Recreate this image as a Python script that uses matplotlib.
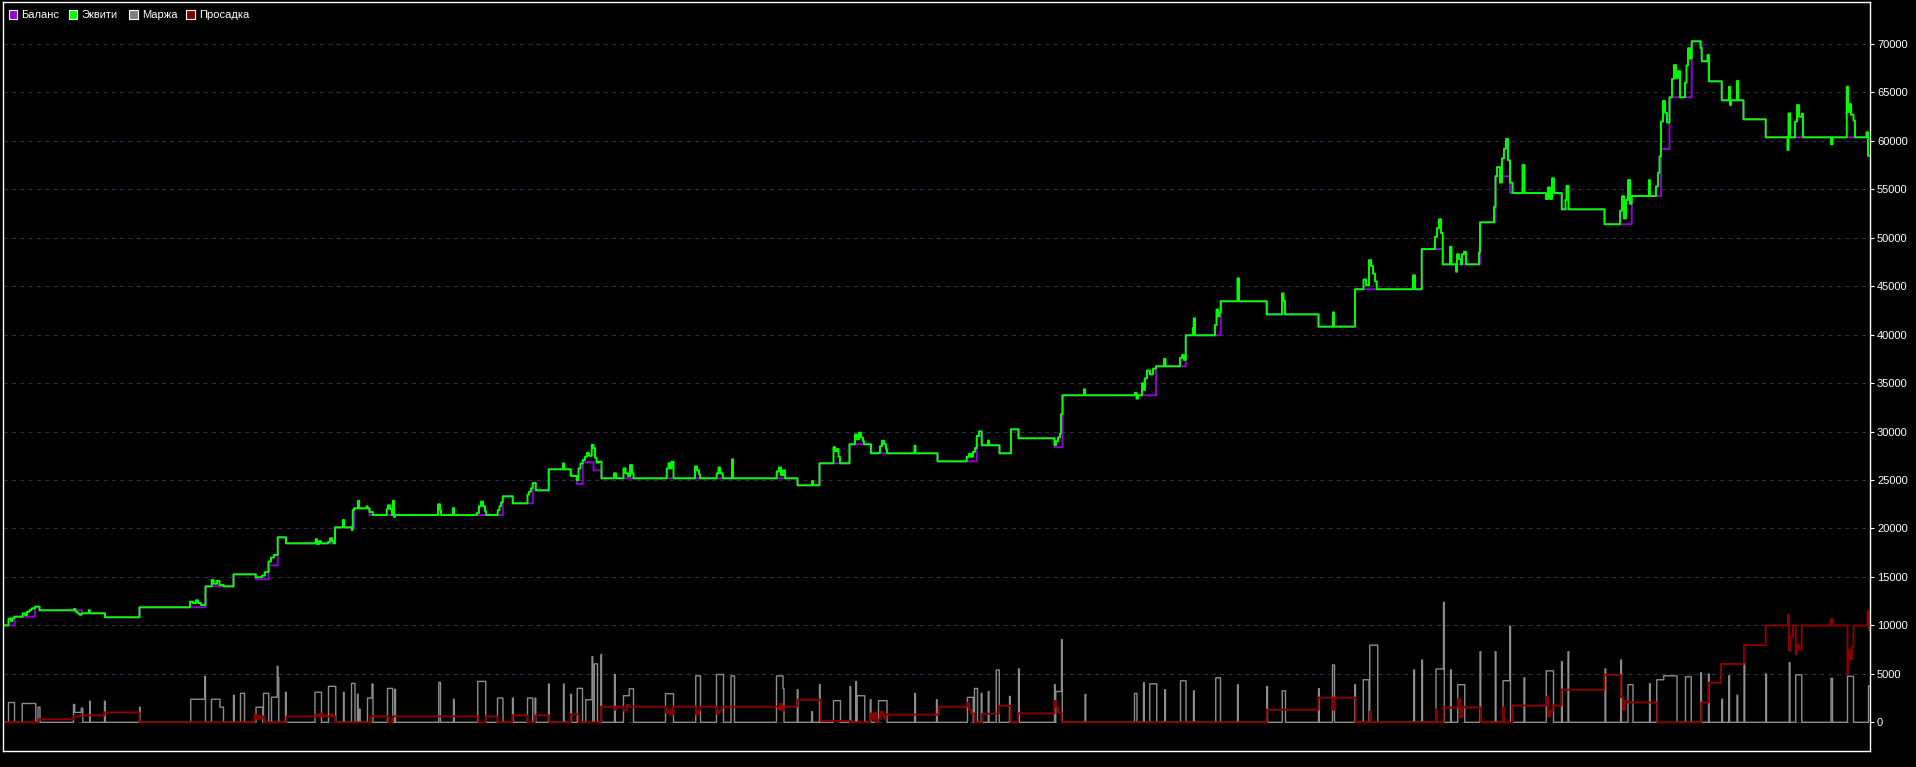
import matplotlib
matplotlib.use("Agg")
import matplotlib.pyplot as plt
from matplotlib.patches import Rectangle
import numpy as np

# --- data (time index along x, account currency on y) ---

# balance: index where a new level starts, and the level
bal_x = [3, 14.3, 35, 39.3, 81.7, 105, 139.3, 205.3, 233.3, 255.7,
         268.3, 277.7, 286, 335, 354, 369.3, 502.7, 512.7, 532.7, 535.7,
         548.7, 570.7, 576.7, 582.7, 593.3, 601.3, 797.3, 819.3, 849.3, 871,
         937.3, 976.7, 981.7, 999.3, 1011, 1018.3, 1054.3, 1062.3, 1156, 1185.7,
         1220.7, 1266.7, 1318.3, 1355, 1421.7, 1442.7, 1480, 1495.3, 1510, 1561.7,
         1604.3, 1631.7, 1661, 1669.3, 1691.7, 1701.7, 1708.3, 1721.7, 1743.3, 1765.7]
bal_y = [10000, 10900, 11930, 11560, 11250, 10840, 11870, 14030, 15270, 14760,
         16200, 19090, 18470, 20120, 22080, 21390, 23320, 22600, 24690, 23940,
         26110, 25420, 24590, 26830, 26000, 25180, 24460, 26730, 28690, 27760,
         26930, 29550, 28590, 27760, 30240, 29310, 28380, 33750, 36740, 39940,
         43450, 42100, 40830, 44690, 48840, 47260, 51600, 56350, 54620, 52940,
         51400, 54310, 59160, 64500, 70280, 68220, 66150, 64190, 62230, 60370]

# equity while positions are open: (from, to, value)
eq_swings = [
    (8.3, 11, 10700), (11, 12.3, 10450), (12.3, 14.3, 10750),
    (22.7, 25, 11250), (25, 27, 11070), (27, 29.3, 11410), (29.3, 31.7, 11590), (31.7, 35, 11760),
    (74, 75.5, 11700), (75.5, 77.5, 11410), (77.5, 79.5, 11250), (79.5, 81.7, 11100),
    (89, 89.7, 11590),
    (190, 193, 12450), (193, 196, 12300), (196, 198, 12600), (198, 201, 12300), (201, 205.3, 12100),
    (211.7, 213.5, 14690), (213.5, 217, 14300), (217, 219.5, 14600), (219.5, 223.3, 14170),
    (255.7, 262, 14970), (262, 265, 15150), (265, 268.3, 15500),
    (268.3, 271, 16600), (271, 274, 17000), (274, 277.7, 17270),
    (315.7, 317, 18900), (317, 319, 18400), (319, 321, 18700), (328, 330, 18600),
    (330, 332, 18990), (332, 333.3, 18700),
    (343, 344, 20880),
    (351.7, 352.7, 19840), (352.7, 354, 21900),
    (358, 359, 22870), (366.5, 367.3, 22300), (369.3, 372.7, 21700),
    (386.7, 388, 22000), (388, 390, 22400), (390, 392, 22000), (393, 394, 22870), (394, 395, 21200),
    (438, 440, 22500), (440, 441, 21900), (453, 454, 22100),
    (477, 479, 21600), (479, 481, 22300), (481, 483, 22770), (483, 485, 22300), (485, 486, 21800),
    (497.7, 499.5, 21900), (499.5, 501, 22300), (501, 502.7, 22700),
    (527.3, 529, 23500), (529, 531, 23800), (531, 532.7, 24150),
    (563, 564, 26730),
    (576.7, 578.5, 25000), (578.5, 580.5, 26200), (580.5, 582.7, 26700),
    (582.7, 585, 27070), (585, 587, 27400), (587, 589, 27800), (589, 591.7, 27500),
    (591.7, 593.3, 28620), (593.3, 595, 28300), (595, 596.5, 27300), (596.5, 598.3, 26800),
    (598.3, 601.3, 26900),
    (614, 616, 25700),
    (623.3, 625.5, 26210), (625.5, 628, 25700), (628, 630, 25400), (630, 632, 26550), (632, 633.3, 25700),
    (666.7, 668.5, 26200), (668.5, 670, 26730), (670, 671.5, 26200), (671.5, 673.3, 26900),
    (695, 697, 26400), (697, 699, 26000), (699, 700, 25600),
    (716.7, 718.5, 25700), (718.5, 720, 26300), (720, 722.7, 25700),
    (732, 733, 27140),
    (776.7, 779, 25900), (779, 781, 26300), (781, 783, 25500), (783, 785, 26000),
    (812, 813, 24900),
    (833.3, 835, 28400), (835, 837, 28000), (837, 838.5, 28200), (838.5, 840, 27400),
    (855, 857, 29700), (857, 859, 29200), (859, 861, 29890), (861, 863, 29400), (863, 864, 29000),
    (878, 880, 27800), (880, 882, 28500), (882, 884, 29060), (884, 886, 28700), (886, 887, 28200),
    (914.5, 915.5, 28540),
    (966.7, 969, 27400), (969, 971, 27700), (971, 973, 27400), (973, 975, 27900), (975, 976.7, 28300),
    (979, 981.7, 30030),
    (988, 989, 29070),
    (1054.3, 1056, 28600), (1056, 1058, 29000), (1058, 1060, 29400), (1060, 1061, 29800),
    (1061, 1062.3, 31800),
    (1084, 1085, 34370),
    (1135, 1136.5, 34000), (1136.5, 1138, 33400), (1142, 1143.3, 34990),
    (1143.3, 1145, 34300), (1145, 1147, 35500), (1147, 1150, 36300), (1150, 1153, 35900),
    (1153, 1156, 36500),
    (1164, 1165.5, 37500),
    (1180, 1182, 37600), (1182, 1184, 37900), (1184, 1185.7, 37400),
    (1193, 1193.7, 40700), (1193.7, 1195, 41690),
    (1215, 1216.5, 41000), (1216.5, 1218, 42600), (1218, 1219.5, 41900), (1219.5, 1220.7, 42300),
    (1237.5, 1239, 45820),
    (1282, 1283.5, 44270), (1283.5, 1285, 43500),
    (1333, 1334, 42310),
    (1363.3, 1366, 45700), (1366, 1369, 45100), (1369, 1371, 47700), (1371, 1373, 47100),
    (1373, 1375, 46300), (1375, 1376.7, 45500),
    (1413, 1415, 46130),
    (1435, 1437, 50100), (1437, 1439, 51000), (1439, 1441, 51910), (1441, 1442.7, 50500),
    (1450, 1451.5, 49080), (1456, 1457, 46500), (1457, 1459, 48300), (1459, 1461, 47800),
    (1462, 1464, 48300), (1464, 1466, 48560),
    (1479, 1480, 48500),
    (1494, 1495.3, 53200),
    (1497, 1500, 57300), (1500, 1502, 55700), (1502, 1504, 58200), (1504, 1506, 59200),
    (1506, 1508, 60200), (1508, 1510, 58000),
    (1510, 1512.3, 55690),
    (1522.5, 1524.5, 57510),
    (1546, 1548, 54000), (1548, 1550, 55200), (1550, 1552, 54000), (1552, 1554, 56140),
    (1565.5, 1566.5, 53900), (1566.5, 1568.5, 55350),
    (1620, 1622, 52800), (1622, 1624, 54300), (1624, 1626, 52000), (1626, 1628, 53900),
    (1628, 1630, 55960), (1630, 1631.7, 53500),
    (1649, 1650, 55960),
    (1656, 1658, 55300), (1658, 1659.5, 56700), (1659.5, 1661, 58400),
    (1661, 1663, 62000), (1663, 1665, 64120), (1665, 1667, 62900), (1667, 1669.3, 61900),
    (1672, 1674, 66400), (1674, 1676, 67830), (1676, 1678, 66500), (1678, 1680, 67200),
    (1685, 1686.5, 66000), (1686.5, 1688, 67800), (1688, 1690, 69560), (1690, 1691.7, 68500),
    (1700.5, 1701.7, 69600),
    (1707.5, 1709, 68860),
    (1729, 1730, 65590), (1730, 1731, 63700),
    (1737, 1738, 66200),
    (1787.5, 1788.5, 59060), (1788.5, 1790, 62840),
    (1795, 1797, 62000), (1797, 1799, 63700), (1799, 1801.7, 62500), (1801.7, 1803, 62800),
    (1831, 1832.5, 59650),
    (1846.7, 1848, 65590), (1848, 1849.5, 63000), (1849.5, 1851, 63800), (1851, 1853.3, 62700),
    (1853.3, 1855, 62100),
    (1866.5, 1868, 60900), (1868, 1870, 58470),
]

# margin used: (from, to, value)
margin_pulses = [
    (8.4, 14.5, 2040), (22.2, 35.6, 1940), (37.9, 39.8, 1560),
    (73.5, 74.6, 1840), (74.6, 81.1, 1020), (81.1, 82.7, 1460),
    (89.6, 90.2, 2180), (104.5, 105.1, 2180), (139.3, 139.9, 1560),
    (190.6, 204.7, 2380), (204.7, 205.5, 4730),
    (211.3, 220, 2380), (220, 223.5, 1560),
    (233.4, 234.1, 2790), (240.3, 244.5, 2990),
    (256, 262.9, 1560), (263.3, 268.7, 2990),
    (271.3, 277.2, 2590), (277.2, 277.9, 5780), (277.9, 278.6, 4630),
    (285.5, 286.2, 3100),
    (315, 321.5, 3100), (328.4, 335.6, 3710),
    (343.3, 344, 3100), (351.3, 354.8, 4010), (357.4, 358, 2900), (359.4, 360, 1360),
    (367.4, 372, 2500), (372, 372.8, 3950),
    (387.3, 392.7, 3500), (394.6, 395.3, 3400),
    (438.6, 440.5, 4120), (453.5, 454.2, 2380),
    (477.6, 485.7, 4220), (497.5, 502.9, 2500), (512.4, 513.1, 2500),
    (527.4, 532.7, 2500), (535, 535.7, 2500),
    (548.4, 549.1, 3950), (563.3, 564, 3950), (570.6, 571.3, 2900),
    (577.1, 582.4, 3500),
    (585.7, 591.8, 2330), (591.8, 592.6, 6780), (594.2, 597.5, 6030), (600.8, 601.5, 6990),
    (614.4, 615.1, 4930),
    (623.4, 629.1, 2740), (629.1, 633.3, 3460),
    (665.4, 673.4, 2950), (695.6, 700.3, 4790), (716.4, 723.5, 4930), (731, 734.3, 4790),
    (776.3, 782.9, 4790), (782.9, 784, 3460),
    (797.1, 797.8, 3360), (811.7, 812.4, 1100), (819.3, 820, 3900),
    (833.4, 840.5, 2230), (850, 850.7, 3700), (855.6, 856.3, 4210), (857, 864.6, 2740),
    (870.2, 870.9, 2330), (878.3, 886.8, 2230),
    (914.6, 915.3, 2980), (936.3, 937, 2330),
    (967.4, 973.1, 2570), (974.5, 977.4, 3490), (981.1, 981.8, 2980), (988.2, 988.9, 3180),
    (996.2, 999.1, 5410), (1009.5, 1010.2, 2670), (1018.4, 1019.1, 5510),
    (1054.3, 1055, 3900), (1055.7, 1061.4, 3180), (1061.4, 1062.1, 8530),
    (1085, 1085.7, 2880),
    (1134.5, 1136.9, 2980), (1143.5, 1144.2, 4080), (1149.6, 1156.7, 3970), (1164.7, 1165.4, 3360),
    (1180.3, 1185.9, 4280), (1193.5, 1194.2, 3250),
    (1215.7, 1220.4, 4590), (1237.4, 1238.1, 3870),
    (1266.6, 1267.3, 3700), (1282.2, 1285.5, 3250),
    (1318.4, 1319.1, 3470), (1332.5, 1334.4, 5920), (1354.7, 1355.5, 3880),
    (1363.1, 1368.9, 4390), (1369.7, 1377.7, 7960),
    (1413.7, 1414.4, 5410), (1421.7, 1422.4, 6430),
    (1435.9, 1443.5, 5510), (1443.5, 1444.2, 12380),
    (1450.4, 1451.1, 5410), (1457.7, 1464.6, 3880),
    (1479.9, 1480.6, 7280), (1495.2, 1495.9, 7280),
    (1502.8, 1509.7, 4290), (1509.7, 1510.4, 9930),
    (1523.9, 1524.6, 4590), (1546.1, 1553.3, 5310),
    (1561.4, 1562.1, 6260), (1567.9, 1568.6, 7280),
    (1605, 1605.7, 5510), (1620.7, 1621.4, 6430), (1628, 1633, 3880),
    (1649.4, 1650.1, 3980), (1656.7, 1663.6, 4390), (1663.6, 1677, 4800),
    (1685.4, 1691.1, 4690), (1700.7, 1701.4, 5100), (1708.3, 1709, 5000),
    (1721.7, 1722.4, 2380), (1728.6, 1729.3, 4800), (1737, 1737.7, 2790), (1743.9, 1744.6, 6120),
    (1765.7, 1766.4, 5000), (1789.1, 1789.8, 6160), (1795.6, 1801.7, 4900),
    (1831, 1832.3, 4540), (1847.3, 1853.5, 4750), (1868.3, 1870, 3750),
]

# drawdown: base levels
dd_x = [3, 38.3, 73.5, 81.1, 104.5, 139.3, 264, 286.3, 335, 370.5,
        388.4, 392.3, 478.3, 485.3, 497.5, 512.4, 527.4, 535, 549.2, 570.6,
        578.7, 600.8, 797.1, 820.7, 850, 878.3, 938.7, 974.5, 982, 999,
        1010.4, 1017.9, 1061.4, 1266.6, 1318.4, 1355.5, 1443.5, 1480.6, 1512.4, 1561.4,
        1604.2, 1628, 1657.1, 1701.1, 1708.7, 1721, 1743.9, 1765.7]
dd_y = [0, 306, 610, 714, 1020, 0, 0, 610, 0, 610,
        0, 610, 0, 610, 0, 714, 0, 714, 0, 816,
        0, 1610, 2330, 140, 0, 790, 1610, 0, 890, 1710,
        0, 920, 0, 1300, 2550, 0, 1530, 0, 1730, 3370,
        4900, 2040, 0, 2040, 4080, 6020, 7960, 10000]

# drawdown wiggles: (from, to, value)
dd_swings = [
    (254.5, 256, 800), (256, 258, 300), (258, 260, 700), (260, 262, 400), (262, 264, 600),
    (316, 318, 800), (320, 322, 900), (325, 327, 750), (330, 332, 850),
    (614.4, 616, 1300), (623.4, 627, 1200), (627, 629, 1800),
    (666, 668, 1000), (668, 670, 1300), (670, 673, 800),
    (696, 698, 800), (698, 700, 1200),
    (717, 719, 900), (719, 722, 1200),
    (778.2, 780, 1300), (780, 782, 1900), (782, 784, 1200),
    (870.2, 872, 900), (872, 874, 300), (874, 876, 1000),
    (878.3, 880, 300), (881, 883, 1100), (884, 886, 400),
    (967, 969, 2000), (969, 971, 1300), (971, 974.5, 900),
    (1054.3, 1056, 2200), (1056, 1058, 1600), (1058, 1061.4, 1000),
    (1332.5, 1334.4, 1300),
    (1369.7, 1371, 1100),
    (1435.9, 1437, 1330),
    (1457.7, 1460, 2400), (1460, 1462, 500), (1462, 1464.6, 1600),
    (1502.8, 1504, 1530),
    (1546.1, 1548, 2600), (1548, 1550, 600), (1550, 1552.6, 1200),
    (1620.7, 1623, 2600), (1623, 1625, 1300), (1625, 1628, 2200),
    (1787.9, 1789, 11120), (1789, 1790.5, 7400), (1790.5, 1793, 8800),
    (1795.6, 1797, 7000), (1797, 1799, 8000), (1799, 1801.7, 7500),
    (1831, 1832.3, 10660),
    (1847.3, 1848.5, 5060), (1848.5, 1850, 7500), (1850, 1852, 6500), (1852, 1853.3, 7800),
    (1867.5, 1869, 11460), (1869, 1870, 9500),
]

legend_labels = ["Баланс", "Эквити", "Маржа", "Просадка"]
yticks = list(range(0, 70001, 5000))

# --- styling ---
C_BAL = "#9400d3"
C_EQ = "#00ff00"
C_MARGIN = "#8c8c8c"
C_DD = "#8b0000"
C_GRID = "#2c2c4c"

W, H = 1916, 767
plt.rcParams['font.family'] = ['Liberation Sans', 'DejaVu Sans']
plt.rcParams['lines.scale_dashes'] = False


def step_series(t, xs, ys):
    idx = np.searchsorted(xs, t, side='right') - 1
    return np.asarray(ys, dtype=float)[np.clip(idx, 0, None)]


def apply_swings(t, base, swings):
    out = base.copy()
    for s, e, v in swings:
        out[(t >= s) & (t < e)] = v
    return out


t = np.arange(3.0, 1870.0, 0.25)
balance = step_series(t, bal_x, bal_y)
equity = apply_swings(t, balance, eq_swings)
margin = apply_swings(t, np.zeros_like(t), margin_pulses)
drawdown = apply_swings(t, step_series(t, dd_x, dd_y), dd_swings)

fig = plt.figure(figsize=(W / 100, H / 100), dpi=100, facecolor='black')
ax = fig.add_axes([3 / W, (H - 751) / H, (1870 - 3) / W, (751 - 2) / H])
ax.set_facecolor('black')

ax.plot(t, margin, drawstyle='steps-post', color=C_MARGIN, lw=1.0)
ax.plot(t, drawdown, drawstyle='steps-post', color=C_DD, lw=1.4)
ax.plot(t, balance, drawstyle='steps-post', color=C_BAL, lw=1.4)
ax.plot(t, equity, drawstyle='steps-post', color=C_EQ, lw=1.4)

ax.set_xlim(3, 1870)
ax.set_ylim(-2962, 74334)
ax.set_yticks(yticks)
ax.set_yticklabels([str(v) for v in yticks])
ax.yaxis.tick_right()
ax.tick_params(axis='y', direction='out', length=3, width=0.8, color='white',
               labelcolor='white', labelsize=8, pad=2)
ax.tick_params(axis='x', bottom=False, labelbottom=False)
ax.yaxis.grid(True, color=C_GRID, linestyle=(0, (3, 3)), linewidth=0.8)
ax.set_axisbelow(True)
for sp in ax.spines.values():
    sp.set_color('white')
    sp.set_linewidth(1.0)

# legend in the top-left corner, as drawn by the terminal
leg_colors = [C_BAL, C_EQ, "#808080", "#800000"]
box_x = [8.5, 68.5, 129, 186]
text_x = [20.7, 81, 141.7, 198.7]
for lab, col, bx, tx in zip(legend_labels, leg_colors, box_x, text_x):
    fig.add_artist(Rectangle((bx / W, (H - 18.7) / H), 8.7 / W, 8.7 / H,
                             transform=fig.transFigure, facecolor=col,
                             edgecolor='white', lw=0.8))
    fig.text(tx / W, (H - 14.5) / H, lab, color='white', fontsize=8,
             va='center', ha='left')

fig.savefig("out.png", dpi=100, facecolor='black')
